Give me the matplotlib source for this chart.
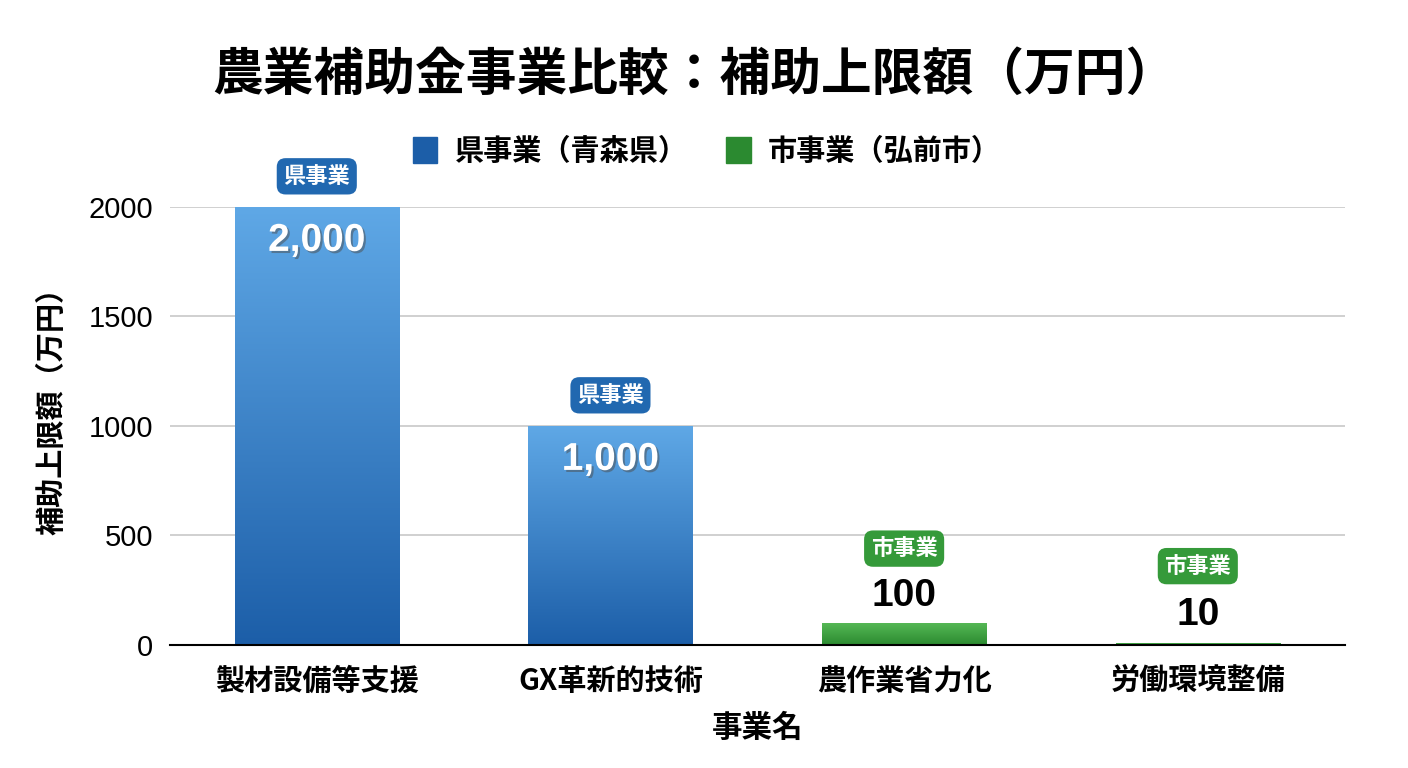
import matplotlib
matplotlib.use('Agg')
import matplotlib.pyplot as plt
import numpy as np
from matplotlib.colors import LinearSegmentedColormap
from matplotlib import patheffects as pe

plt.rcParams['font.family'] = ['Noto Sans CJK JP', 'DejaVu Sans']

categories = ['製材設備等支援', 'GX革新的技術', '農作業省力化', '労働環境整備']
values = [2000, 1000, 100, 10]
kinds = ['pref', 'pref', 'city', 'city']
badge_text = {'pref': '県事業', 'city': '市事業'}
legend_labels = ['県事業（青森県）', '市事業（弘前市）']

colors = {
    'pref': ('#5fa8e6', '#1c5ea8'),
    'city': ('#55b855', '#2b8a30'),
}
badge_colors = {'pref': '#2168b0', 'city': '#359a3a'}

fig = plt.figure(figsize=(14.08, 7.68), dpi=100)
ax = fig.add_axes([0.1207, 0.1602, 0.8343, 0.5703])

x = np.arange(len(categories))
width = 0.56
bars = ax.bar(x, values, width=width, color='none', zorder=3)

# gradient fill, clipped to each bar
for b, k in zip(bars, kinds):
    top_c, bot_c = colors[k]
    cmap = LinearSegmentedColormap.from_list('g', [bot_c, top_c])
    grad = np.linspace(0, 1, 256).reshape(-1, 1)
    x0, y0 = b.get_x(), b.get_y()
    w, h = b.get_width(), b.get_height()
    im = ax.imshow(grad, cmap=cmap, origin='lower', aspect='auto',
                   extent=(x0, x0 + w, y0, y0 + h), zorder=3)
    im.set_clip_path(b)

ax.set_xlim(-0.5, 3.5)
ax.set_ylim(0, 2000)
ax.set_yticks([0, 500, 1000, 1500, 2000])
ax.set_yticklabels(['0', '500', '1000', '1500', '2000'], fontsize=21,
                   fontfamily=['Liberation Sans', 'DejaVu Sans'])
ax.set_xticks(x)
ax.set_xticklabels(categories, fontsize=21, fontweight='bold')
ax.tick_params(length=0)
ax.tick_params(axis='x', pad=15)
ax.tick_params(axis='y', pad=12)
ax.grid(axis='y', color='#c8c8c8', linewidth=1.2, zorder=0)
ax.set_axisbelow(True)
for s in ['left', 'right', 'top']:
    ax.spines[s].set_visible(False)
ax.spines['bottom'].set_linewidth(1.5)
ax.spines['bottom'].set_zorder(4)

ax.set_xlabel('事業名', fontsize=22, fontweight='bold', labelpad=12)
ax.set_ylabel('補助上限額（万円）', fontsize=21, fontweight='bold')
ax.yaxis.set_label_coords(-0.088, 0.55)

for xi, v, k in zip(x, values, kinds):
    if k == 'pref':
        ax.text(xi, v - 155, f'{v:,}', ha='center', va='center', fontsize=28,
                fontweight='bold', color='white', zorder=5,
                fontfamily=['Liberation Sans', 'DejaVu Sans'],
                path_effects=[pe.withSimplePatchShadow(offset=(1.5, -1.5), alpha=0.5)])
        by = v + 140
    else:
        ax.text(xi, v + 125, f'{v:,}', ha='center', va='center', fontsize=28,
                fontweight='bold', color='black', zorder=5,
                fontfamily=['Liberation Sans', 'DejaVu Sans'])
        by = 360 if v < 50 else v + 340
    ax.text(xi, by, badge_text[k], ha='center', va='center', fontsize=16,
            fontweight='bold', color='white', zorder=6, clip_on=False,
            bbox=dict(boxstyle='round,pad=0.3,rounding_size=0.4',
                      fc=badge_colors[k], ec='none'))

fig.text(0.493, 0.902, '農業補助金事業比較：補助上限額（万円）', ha='center', va='center',
         fontsize=36.5, fontweight='bold')

handles = [plt.Rectangle((0, 0), 1, 1, color=colors[k][1]) for k in ['pref', 'city']]
fig.legend(handles, legend_labels, loc='center', bbox_to_anchor=(0.502, 0.803),
           ncol=2, frameon=False, handlelength=0.85, handleheight=1.0,
           handletextpad=0.6, columnspacing=1.3, prop={'weight': 'bold', 'size': 21})

fig.savefig('out.png', dpi=100, facecolor='white')
